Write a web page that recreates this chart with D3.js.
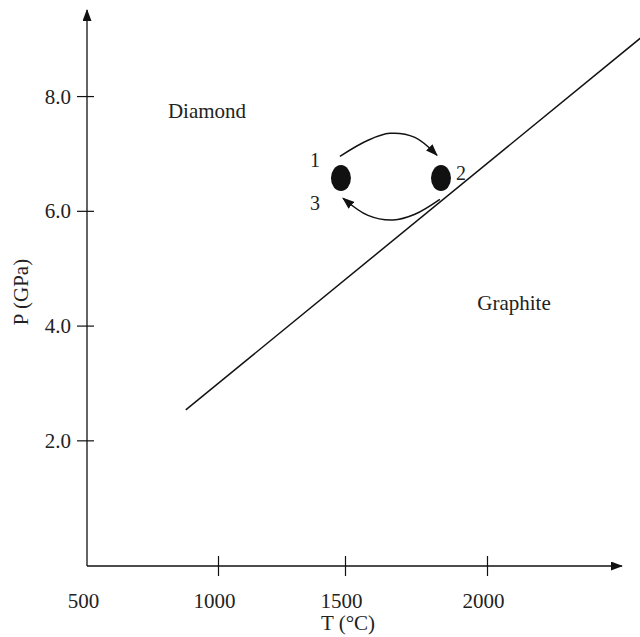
<!DOCTYPE html>
<html>
<head>
<meta charset="utf-8">
<script src="https://cdn.jsdelivr.net/npm/d3@7"></script>
<style>
  body { margin: 0; background: #fff; }
  svg text { font-family: "Liberation Serif", "Times New Roman", serif; fill: #222; }
</style>
</head>
<body>
<div id="chart"></div>
<script>
// Axis ticks
const tTicks = [500, 1000, 1500, 2000];
const pTicks = [2.0, 4.0, 6.0, 8.0];

// Diamond / graphite boundary (T in °C, P in GPa)
const boundary = [
  { T: 877, P: 2.53 },
  { T: 2540, P: 9.01 }
];

// Cycle states 1 and 2
const states = [
  { label: "1", T: 1484, P: 6.57 },
  { label: "2", T: 1838, P: 6.57 }
];

// Cycle arrows (through-points)
const arcTop = [
  { T: 1480, P: 6.95 },
  { T: 1581, P: 7.23 },
  { T: 1658, P: 7.35 },
  { T: 1746, P: 7.28 },
  { T: 1824, P: 6.97 }
];
const arcBottom = [
  { T: 1834, P: 6.20 },
  { T: 1746, P: 5.94 },
  { T: 1669, P: 5.84 },
  { T: 1581, P: 5.92 },
  { T: 1492, P: 6.22 }
];

// Region labels
const regions = [
  { name: "Diamond", T: 958, P: 7.61 },
  { name: "Graphite", T: 2095, P: 4.27 }
];

const width = 640, height = 637;

const svg = d3.select("#chart")
  .append("svg")
  .attr("width", width)
  .attr("height", height);

const defs = svg.append("defs");
defs.append("marker")
  .attr("id", "head")
  .attr("viewBox", "0 0 12 9")
  .attr("refX", 11)
  .attr("refY", 4.5)
  .attr("markerWidth", 12)
  .attr("markerHeight", 9)
  .attr("markerUnits", "userSpaceOnUse")
  .attr("orient", "auto")
  .append("path")
  .attr("d", "M0,0 L12,4.5 L0,9 Z")
  .attr("fill", "#111");

// Scales (hand-drawn temperature axis is slightly uneven)
const tMin = 500, tMax = 2475, pMin = -0.19, pMax = 9.5;
const x = d3.scaleLinear()
  .domain([500, 1000, 1500, 2000, 2600])
  .range([87, 218, 345, 487, 657.4]);
const y = d3.scaleLinear().domain([pMin, pMax]).range([566, 10]);

// Axis lines with arrows
svg.append("line")
  .attr("x1", x(tMin)).attr("y1", y(pMin))
  .attr("x2", x(tMax)).attr("y2", y(pMin))
  .attr("stroke", "#111").attr("stroke-width", 1.3)
  .attr("marker-end", "url(#head)");
svg.append("line")
  .attr("x1", x(tMin)).attr("y1", y(pMin))
  .attr("x2", x(tMin)).attr("y2", y(pMax))
  .attr("stroke", "#111").attr("stroke-width", 1.3)
  .attr("marker-end", "url(#head)");

// X axis ticks
const xAxis = svg.append("g")
  .attr("transform", `translate(0, ${y(pMin)})`)
  .call(d3.axisBottom(x).tickValues(tTicks).tickSize(0).tickFormat(d3.format("d")));
xAxis.select(".domain").remove();
xAxis.selectAll(".tick line")
  .attr("y1", -10).attr("y2", 10)
  .attr("stroke", "#111").attr("stroke-width", 1.2)
  .filter(d => d === 500).remove();
xAxis.selectAll(".tick text")
  .attr("y", 42).attr("dy", 0).attr("dx", -4)
  .style("font-size", "21px");

// Y axis ticks
const yAxis = svg.append("g")
  .attr("transform", `translate(${x(tMin)}, 0)`)
  .call(d3.axisLeft(y).tickValues(pTicks).tickSize(0).tickFormat(d3.format(".1f")));
yAxis.select(".domain").remove();
yAxis.selectAll(".tick line")
  .attr("x1", -10).attr("x2", 7)
  .attr("stroke", "#111").attr("stroke-width", 1.2);
yAxis.selectAll(".tick text")
  .attr("x", -16).attr("dy", "0.34em")
  .style("font-size", "21px");

// Axis titles
svg.append("text")
  .attr("x", 348).attr("y", 630)
  .attr("text-anchor", "middle")
  .style("font-size", "21px")
  .text("T (°C)");
svg.append("text")
  .attr("transform", `translate(21, 292) rotate(-90)`)
  .attr("text-anchor", "middle").attr("dy", "0.35em")
  .style("font-size", "21px")
  .text("P (GPa)");

// Phase boundary
const line = d3.line().x(d => x(d.T)).y(d => y(d.P));
svg.append("path")
  .datum(boundary)
  .attr("d", line)
  .attr("fill", "none")
  .attr("stroke", "#111")
  .attr("stroke-width", 1.5);

// Region labels
svg.selectAll(".region")
  .data(regions)
  .enter()
  .append("text")
  .attr("class", "region")
  .attr("x", d => x(d.T)).attr("y", d => y(d.P))
  .attr("text-anchor", "middle")
  .style("font-size", "21px")
  .text(d => d.name);

// Cycle arrows
const curve = d3.line().x(d => x(d.T)).y(d => y(d.P)).curve(d3.curveCatmullRom);
[arcTop, arcBottom].forEach(arc => {
  svg.append("path")
    .datum(arc)
    .attr("d", curve)
    .attr("fill", "none")
    .attr("stroke", "#111")
    .attr("stroke-width", 1.5)
    .attr("marker-end", "url(#head)");
});

// State dots
svg.selectAll(".state")
  .data(states)
  .enter()
  .append("ellipse")
  .attr("class", "state")
  .attr("cx", d => x(d.T)).attr("cy", d => y(d.P))
  .attr("rx", 10).attr("ry", 13)
  .attr("fill", "#111");

// State labels
svg.append("text")
  .attr("x", x(states[0].T) - 26).attr("y", y(states[0].P) - 11)
  .attr("text-anchor", "middle")
  .style("font-size", "20px").text("1");
svg.append("text")
  .attr("x", x(states[1].T) + 20).attr("y", y(states[1].P) + 2)
  .attr("text-anchor", "middle")
  .style("font-size", "20px").text("2");
svg.append("text")
  .attr("x", x(states[0].T) - 26).attr("y", y(states[0].P) + 32)
  .attr("text-anchor", "middle")
  .style("font-size", "20px").text("3");
</script>
</body>
</html>
